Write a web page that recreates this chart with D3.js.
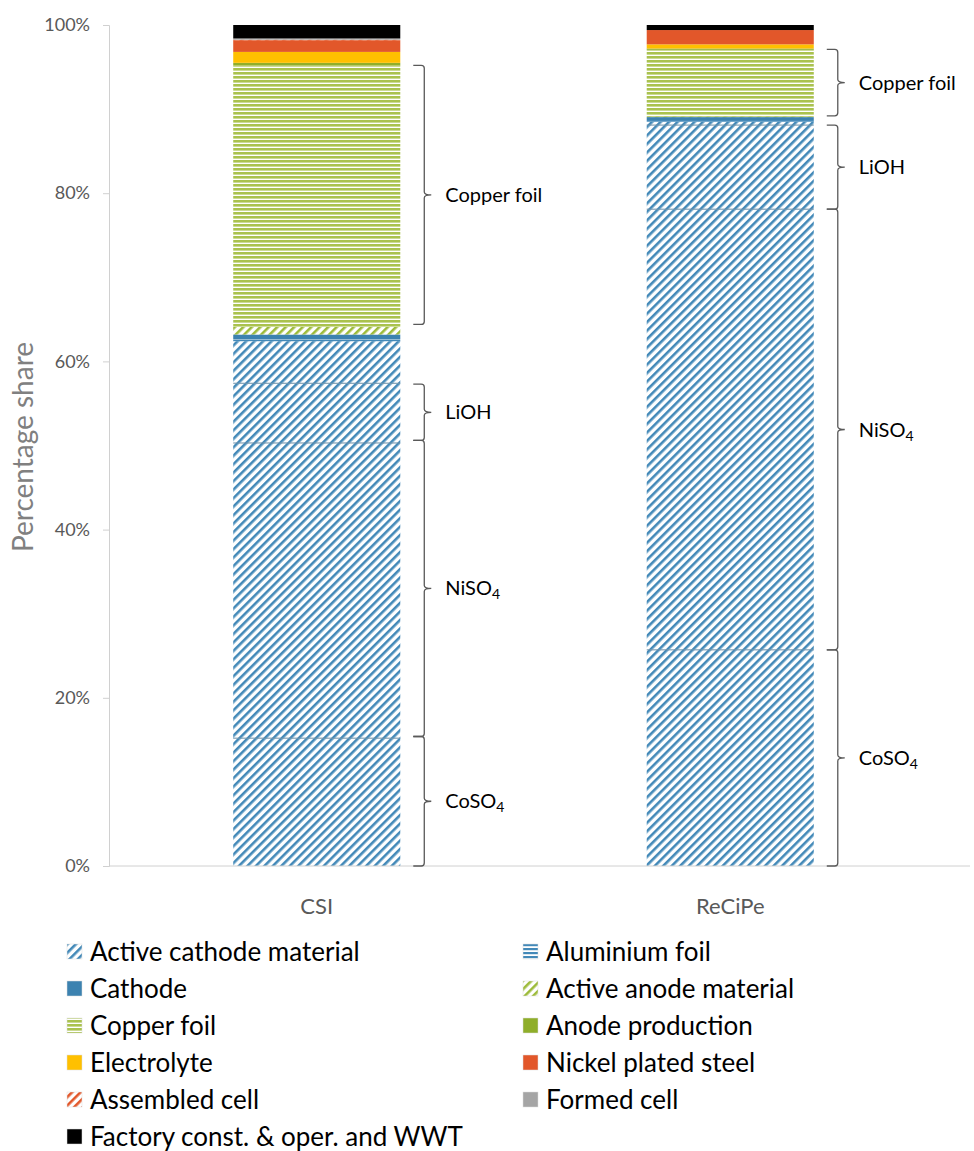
<!DOCTYPE html>
<html><head><meta charset="utf-8">
<script src="https://cdn.jsdelivr.net/npm/d3@7"></script>
<style>body{margin:0;background:#fff;} svg{display:block;font-family:Lato,"Open Sans",sans-serif;}</style>
</head><body>
<svg id="c" width="974" height="1151"></svg>
<script>
// ---------- data ----------
const categories = ["CSI", "ReCiPe"];
const seriesNames = ["Active cathode material – CoSO4", "Active cathode material – NiSO4", "Active cathode material – LiOH", "Active cathode material – other",
  "Aluminium foil", "Cathode", "Active anode material", "Copper foil", "Anode production", "Electrolyte",
  "Nickel plated steel", "Assembled cell", "Formed cell", "Factory const. & oper. and WWT"];
const seriesKeys = ["acm","acm","acm","acm","alu","cathode","anode","copper","anodeprod","electrolyte","nickel","assembled","formed","factory"];
const csiValues    = [15.2, 35.1, 7.1, 5.0, 0.2, 0.6, 0.9, 31.1, 0.3, 1.3, 1.4, 0.05, 0.15, 1.6];
const recipeValues = [25.7, 52.4, 10.0, 0.4, 0.2, 0.35, 0.05, 7.95, 0.15, 0.5, 1.7, 0.0, 0.0, 0.6];
const yTicks = [0, 20, 40, 60, 80, 100];
const legendLabels = ["Active cathode material", "Aluminium foil", "Cathode", "Active anode material", "Copper foil", "Anode production",
  "Electrolyte", "Nickel plated steel", "Assembled cell", "Formed cell", "Factory const. & oper. and WWT"];
const legendKeys = ["acm","alu","cathode","anode","copper","anodeprod","electrolyte","nickel","assembled","formed","factory"];
const bracketCats   = ["CSI","CSI","CSI","CSI","ReCiPe","ReCiPe","ReCiPe","ReCiPe"];
const bracketLabels = ["CoSO4","NiSO4","LiOH","Copper foil","CoSO4","NiSO4","LiOH","Copper foil"];
const bracketFrom   = [0, 15.4, 50.6, 64.4, 0, 25.7, 78.1, 89.2];
const bracketTo     = [15.4, 50.6, 57.3, 95.2, 25.7, 78.1, 88.1, 97.1];

// ---------- setup ----------
const svg = d3.select("#c");
const defs = svg.append("defs");
function diag(id, color, bg){
  const p = defs.append("pattern").attr("id", id).attr("patternUnits","userSpaceOnUse")
    .attr("width", 6).attr("height", 6).attr("patternTransform","rotate(45)");
  p.append("rect").attr("width",6).attr("height",6).attr("fill", bg);
  p.append("rect").attr("x",0).attr("y",0).attr("width",2.6).attr("height",6).attr("fill", color);
}
function horiz(id, color, bg, period, th){
  const p = defs.append("pattern").attr("id", id).attr("patternUnits","userSpaceOnUse")
    .attr("width", 8).attr("height", period);
  p.append("rect").attr("width",8).attr("height",period).attr("fill", bg);
  p.append("rect").attr("x",0).attr("y",0).attr("width",8).attr("height",th).attr("fill", color);
}
diag("p-acm", "#4389B8", "#fff");
diag("p-anode", "#9DBB3A", "#fff");
diag("p-assembled", "#E2572A", "#fff");
horiz("p-alu", "#4389B8", "#fff", 4, 2.2);
horiz("p-copper", "#AAC24E", "#fff", 4, 2.6);
const fills = {
  acm: "url(#p-acm)", alu: "url(#p-alu)", cathode: "#3C82B0", anode: "url(#p-anode)", copper: "url(#p-copper)",
  anodeprod: "#8FAE2A", electrolyte: "#FFC000", nickel: "#E2572A", assembled: "url(#p-assembled)",
  formed: "#A5A5A5", factory: "#000000"
};

const x = d3.scaleBand().domain(categories).range([110, 937]).paddingInner(0.596).paddingOuter(0.298);
const y = d3.scaleLinear().domain([0, 100]).range([866, 25]);

// stacked data
const table = categories.map((c, i) => {
  const row = {cat: c};
  const vals = i === 0 ? csiValues : recipeValues;
  seriesNames.forEach((s, j) => row["s" + j] = vals[j]);
  return row;
});
const stack = d3.stack().keys(seriesNames.map((s, j) => "s" + j));
const layers = stack(table);

const gBars = svg.append("g");
layers.forEach((layer, j) => {
  gBars.selectAll(null).data(layer).join("rect")
    .attr("x", d => x(d.data.cat))
    .attr("width", x.bandwidth())
    .attr("y", d => y(d[1]))
    .attr("height", d => Math.max(0, y(d[0]) - y(d[1])))
    .attr("fill", fills[seriesKeys[j]]);
});
// thin separator lines between active cathode sub-parts
layers.slice(0, 3).forEach(layer => {
  gBars.selectAll(null).data(layer).join("line")
    .attr("x1", d => x(d.data.cat)).attr("x2", d => x(d.data.cat) + x.bandwidth())
    .attr("y1", d => y(d[1])).attr("y2", d => y(d[1]))
    .attr("stroke", "#6a8fa8").attr("stroke-width", 1);
});

// axes
const gy = svg.append("g").attr("transform", "translate(109,0)")
  .call(d3.axisLeft(y).tickValues(yTicks).tickFormat(d => d + "%").tickSize(6).tickPadding(13));
gy.select(".domain").attr("stroke", "#d0d0d0");
gy.selectAll(".tick line").attr("stroke", "#d0d0d0");
gy.selectAll(".tick text").attr("fill", "#595959").style("font-size", "18px").style("font-family", "Lato,'Open Sans',sans-serif");

svg.append("line").attr("x1", 109).attr("x2", 970).attr("y1", y(0)).attr("y2", y(0)).attr("stroke", "#d0d0d0");

svg.selectAll(".cat").data(categories).join("text")
  .attr("x", d => x(d) + x.bandwidth() / 2).attr("y", 914)
  .attr("text-anchor", "middle").attr("fill", "#595959").style("font-size", "22px")
  .text(d => d);

svg.append("text").attr("transform", "translate(33,447) rotate(-90)")
  .attr("text-anchor", "middle").attr("fill", "#808080").style("font-size", "28px")
  .text("Percentage share");

// brackets
const gBr = svg.append("g");
bracketLabels.forEach((lab, i) => {
  const bx = x(bracketCats[i]) + x.bandwidth();
  const x0 = bx + 13, xv = bx + 24, xt = bx + 31;
  const y0 = y(bracketTo[i]), y1 = y(bracketFrom[i]), ym = (y0 + y1) / 2;
  const r = 3;
  const path = `M${x0},${y0} L${xv - r},${y0} Q${xv},${y0} ${xv},${y0 + r} L${xv},${ym - r} Q${xv},${ym} ${xt},${ym} Q${xv},${ym} ${xv},${ym + r} L${xv},${y1 - r} Q${xv},${y1} ${xv - r},${y1} L${x0},${y1}`;
  gBr.append("path").attr("d", path).attr("fill", "none").attr("stroke", "#595959").attr("stroke-width", 1.3);
  const t = gBr.append("text").attr("x", xt + 14).attr("y", ym + 7).attr("fill", "#000").style("font-size", "20px");
  const m = lab.match(/^([A-Za-z]+?)(\d)$/);
  if (m) {
    t.append("tspan").text(m[1]);
    t.append("tspan").attr("dy", 4).style("font-size", "14px").text(m[2]);
  } else t.text(lab);
});

// legend
const gL = svg.append("g");
legendLabels.forEach((lab, i) => {
  const col = i % 2, row = Math.floor(i / 2);
  const lx = col === 0 ? 67 : 523, ly = 952 + row * 37;
  gL.append("rect").attr("x", lx).attr("y", ly - 8).attr("width", 15).attr("height", 15)
    .attr("fill", fills[legendKeys[i]]).attr("stroke", "#ddd").attr("stroke-width", 0.5);
  gL.append("text").attr("x", lx + 23).attr("y", ly + 9).attr("fill", "#000").style("font-size", "26px").text(lab);
});
</script>
</body></html>
